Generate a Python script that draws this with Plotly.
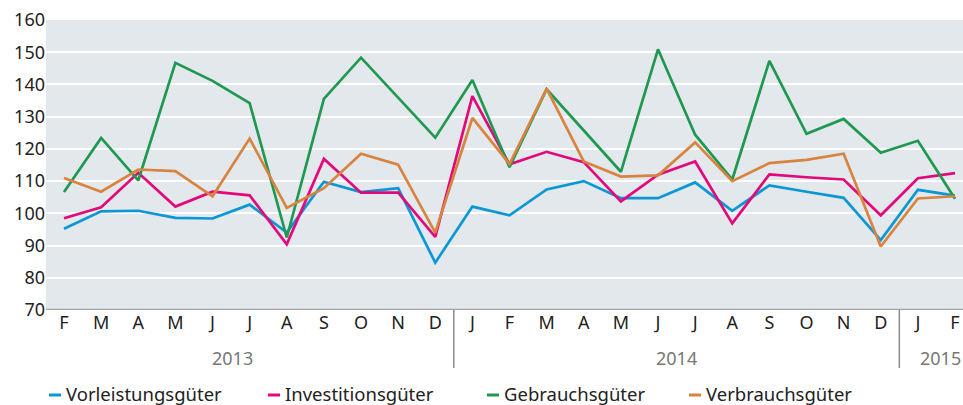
import plotly.graph_objects as go

months = ["F", "M", "A", "M", "J", "J", "A", "S", "O", "N", "D",
          "J", "F", "M", "A", "M", "J", "J", "A", "S", "O", "N", "D",
          "J", "F"]
years = ["2013", "2014", "2015"]
year_pos = [4.55, 16.5, 23.6]
separators = [10.5, 22.5]

vorleistung = [95.2, 100.6, 100.8, 98.6, 98.4, 102.7, 94.0, 109.8, 106.6, 107.8, 84.7,
               102.1, 99.4, 107.4, 110.0, 104.7, 104.7, 109.6, 100.8, 108.7, 106.7, 104.8, 91.7,
               107.3, 105.5]
investition = [98.5, 101.9, 112.6, 102.1, 106.7, 105.6, 90.4, 116.9, 106.4, 106.4, 92.7,
               136.4, 115.2, 119.1, 115.9, 103.7, 112.0, 116.1, 96.9, 112.1, 111.2, 110.5, 99.4,
               110.9, 112.5]
gebrauch = [106.6, 123.4, 110.2, 146.7, 141.1, 134.2, 92.5, 135.5, 148.3, 135.9, 123.5,
            141.4, 114.3, 138.5, 125.6, 112.9, 150.9, 124.4, 110.5, 147.3, 124.7, 129.3, 118.8,
            122.5, 104.5]
verbrauch = [111.0, 106.7, 113.6, 113.1, 105.3, 123.2, 101.7, 107.8, 118.5, 115.1, 94.0,
             129.6, 115.3, 138.7, 116.1, 111.4, 111.8, 122.0, 110.0, 115.6, 116.6, 118.5, 89.7,
             104.6, 105.3]

series = [
    ("Vorleistungsgüter", vorleistung, "#0a98d4"),
    ("Investitionsgüter", investition, "#e2097b"),
    ("Gebrauchsgüter", gebrauch, "#1f9850"),
    ("Verbrauchsgüter", verbrauch, "#d8833f"),
]
legend_x = [49, 268, 487, 689]

FONT = "Noto Sans"
x = list(range(len(months)))

L, T, B = 46, 20, 95
W, H = 963, 405
plot_w = W - L
plot_h = H - T - B


def px(v):
    return (v - L) / plot_w


def py(v):
    return (H - B - v) / plot_h


fig = go.Figure()
for name, vals, col in series:
    fig.add_trace(go.Scatter(x=x, y=vals, mode="lines", name=name,
                             line=dict(color=col, width=2.7), showlegend=False))

fig.update_layout(
    width=W, height=H,
    margin=dict(l=L, r=0, t=T, b=B),
    paper_bgcolor="white", plot_bgcolor="#e3e8ec",
    font=dict(family=FONT, size=18, color="#222222"),
    xaxis=dict(range=[-0.485, 24.215], tickmode="array", tickvals=x, ticktext=months,
               showgrid=False, zeroline=False, showline=False, ticks="",
               tickfont=dict(size=18, color="#222222")),
    yaxis=dict(range=[70, 160], dtick=10, tick0=70, showgrid=True, gridcolor="white",
               gridwidth=2, zeroline=False, showline=False, ticks="",
               tickfont=dict(size=18, color="#222222")),
)

# bottom axis line
fig.add_shape(type="line", xref="paper", yref="y", x0=0, x1=1, y0=70, y1=70,
              line=dict(color="#a3a3a3", width=2.5))
# year separators
for s in separators:
    fig.add_shape(type="line", xref="x", yref="paper", x0=s, x1=s,
                  y0=0, y1=py(368),
                  line=dict(color="#8a8a8a", width=1.5))
# year labels
for yr, xp in zip(years, year_pos):
    fig.add_annotation(x=xp, xref="x", y=py(358), yref="paper", text=yr,
                       showarrow=False,
                       font=dict(family=FONT, size=18, color="#777777"),
                       xanchor="center", yanchor="middle")
# legend entries
for (name, vals, col), lx in zip(series, legend_x):
    fig.add_shape(type="line", xref="paper", yref="paper",
                  x0=px(lx), x1=px(lx + 12), y0=py(395), y1=py(395),
                  line=dict(color=col, width=3))
    fig.add_annotation(x=px(lx + 15), xref="paper", y=py(393),
                       yref="paper", text=name,
                       showarrow=False,
                       font=dict(family=FONT, size=18.5, color="#222222"),
                       xanchor="left", yanchor="middle")

fig.write_html("out.html", config={"displayModeBar": False},
               post_script="document.body.style.margin='0px';")
